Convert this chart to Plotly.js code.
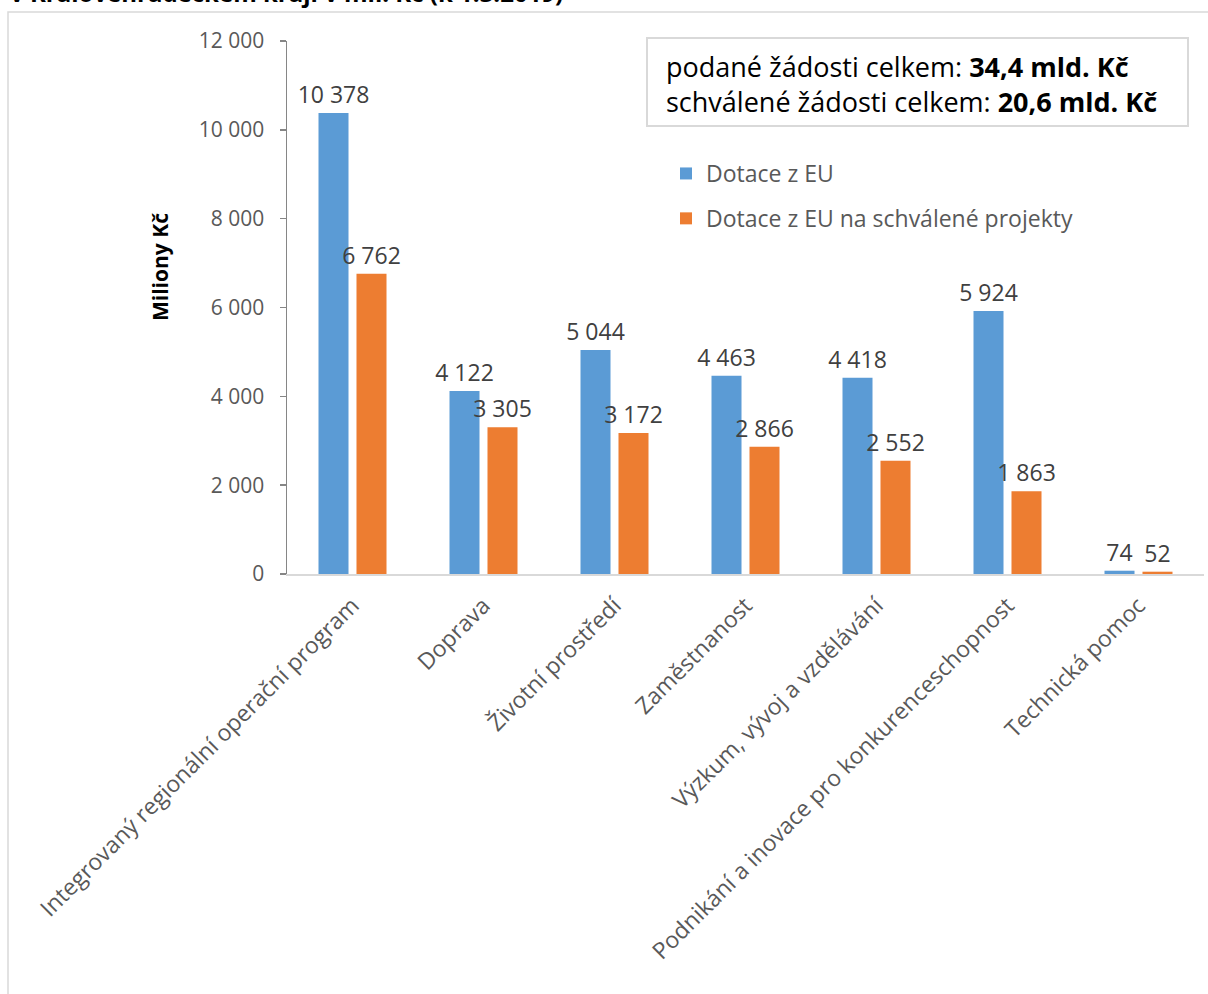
<!DOCTYPE html>
<html>
<head>
<meta charset="utf-8">
<script src="https://cdn.plot.ly/plotly-3.0.1.min.js"></script>
<style>
html,body{margin:0;padding:0;background:#fff;overflow:hidden;}
#chart{width:1208px;height:994px;}
</style>
</head>
<body>
<div id="chart"></div>
<script>
const categories = [
  "Integrovaný regionální operační program",
  "Doprava",
  "Životní prostředí",
  "Zaměstnanost",
  "Výzkum, vývoj a vzdělávání",
  "Podnikání a inovace pro konkurenceschopnost",
  "Technická pomoc"
];
const dotaceEU = [10378, 4122, 5044, 4463, 4418, 5924, 74];
const dotaceSchvalene = [6762, 3305, 3172, 2866, 2552, 1863, 52];
const seriesNames = ["Dotace z EU", "Dotace z EU na schválené projekty"];
const yTicks = [0, 2000, 4000, 6000, 8000, 10000, 12000];
const titleText = "v Královéhradeckém kraji v mil. Kč (k 1.3.2019)";
const yTitleText = "Miliony Kč";
const boxText = "podané žádosti celkem: <b>34,4 mld. Kč</b><br>schválené žádosti celkem: <b>20,6 mld. Kč</b>";

const FONT = "'Open Sans', sans-serif";

const W = 1208, H = 994;
const m = {l: 287, r: 4, t: 41, b: 420};
const pw = W - m.l - m.r, ph = H - m.t - m.b;
const px = x => (x - m.l) / pw;
const py = y => (H - m.b - y) / ph;

const barText = {family: FONT, size: 23, color: '#404040'};
const traces = [
  {
    type: 'bar', x: categories, y: dotaceEU, name: seriesNames[0],
    legendgroup: 'a',
    marker: {color: '#5b9bd5'},
    texttemplate: '%{y:,}', textposition: 'outside', cliponaxis: false,
    constraintext: 'none',
    textfont: barText, outsidetextfont: barText,
    hoverinfo: 'none'
  },
  {
    type: 'bar', x: categories, y: dotaceSchvalene, name: seriesNames[1],
    legendgroup: 'b',
    marker: {color: '#ed7d31'},
    texttemplate: '%{y:,}', textposition: 'outside', cliponaxis: false,
    constraintext: 'none',
    textfont: barText, outsidetextfont: barText,
    hoverinfo: 'none'
  }
];

const layout = {
  width: W, height: H,
  margin: m,
  paper_bgcolor: '#fff', plot_bgcolor: '#fff',
  separators: ', ',
  font: {family: FONT, color: '#595959'},
  barmode: 'group',
  bargap: 0.42,
  bargroupgap: 0.21,
  showlegend: true,
  legend: {
    x: px(666), y: py(152), xanchor: 'left', yanchor: 'top',
    font: {family: FONT, size: 23, color: '#595959'},
    traceorder: 'grouped', tracegroupgap: 12,
    bgcolor: 'rgba(0,0,0,0)'
  },
  xaxis: {
    type: 'category',
    tickangle: -45,
    ticklabelstandoff: 7,
    tickfont: {family: FONT, size: 23, color: '#595959'},
    showline: true, linecolor: '#d9d9d9', linewidth: 2,
    ticks: '', showgrid: false, zeroline: false,
    fixedrange: true
  },
  yaxis: {
    range: [0, 12000],
    tickvals: yTicks,
    tickformat: ',',
    tickfont: {family: FONT, size: 21, color: '#595959'},
    ticklabelstandoff: 11,
    showline: true, linecolor: '#868686', linewidth: 1.5,
    ticks: 'outside', ticklen: 6, tickcolor: '#868686', tickwidth: 1.5,
    showgrid: false, zeroline: false,
    fixedrange: true
  },
  shapes: [
    {type: 'rect', xref: 'paper', yref: 'paper', layer: 'below',
     x0: px(8), x1: px(1260), y0: py(1050), y1: py(12),
     line: {color: '#d9d9d9', width: 1.5}, fillcolor: 'rgba(0,0,0,0)'},
    {type: 'rect', xref: 'paper', yref: 'paper',
     x0: px(647), x1: px(1188), y0: py(126), y1: py(38),
     line: {color: '#d9d9d9', width: 2}, fillcolor: '#fff'}
  ],
  annotations: [
    {xref: 'paper', yref: 'paper', x: px(664), y: py(84), xanchor: 'left', yanchor: 'middle',
     text: boxText, align: 'left', showarrow: false,
     font: {family: FONT, size: 27, color: '#000'}},
    {xref: 'paper', yref: 'paper', x: px(160), y: py(267), xanchor: 'center', yanchor: 'middle',
     text: '<b>' + yTitleText + '</b>', textangle: -90, showarrow: false,
     font: {family: FONT, size: 21, color: '#000'}},
    {xref: 'paper', yref: 'paper', x: px(8), y: py(11), xanchor: 'left', yanchor: 'bottom',
     text: '<b>' + titleText + '</b>', showarrow: false,
     font: {family: FONT, size: 24, color: '#000'}}
  ]
};

Plotly.newPlot('chart', traces, layout, {displayModeBar: false, staticPlot: true});
</script>
</body>
</html>
